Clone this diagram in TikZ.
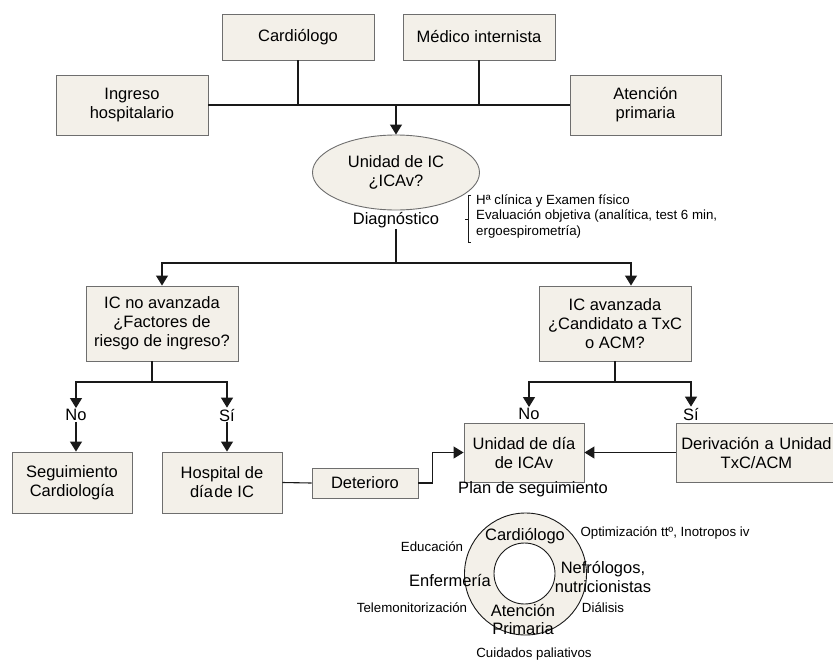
\documentclass[tikz,border=0pt]{standalone}
\usepackage{fontspec}
\setmainfont{Liberation Sans}
\usetikzlibrary{arrows.meta,shapes.geometric}
\definecolor{boxfill}{RGB}{243,240,233}
\definecolor{boxline}{RGB}{110,110,110}
\definecolor{ln}{RGB}{25,25,25}
\newcommand\myBigF{\fontsize{16.5}{19}\selectfont}
\begin{document}
\begin{tikzpicture}[x=1pt,y=-1pt,
 box/.style={draw=boxline, fill=boxfill, line width=0.9pt, align=center, inner sep=0pt, font=\myBigF},
 lbl/.style={inner sep=1pt, align=center, font=\myBigF},
 small/.style={inner sep=0pt, align=left, font=\fontsize{13.3}{15.5}\selectfont},
 tiny/.style={inner sep=0pt, font=\fontsize{13.3}{15.5}\selectfont},
 conn/.style={draw=ln, line width=1.1pt},
 arr/.style={conn, -{Triangle[length=10pt,width=12pt]}}]
\useasboundingbox (0,0) rectangle (833,662);

% top row
\node[box, minimum width=152, minimum height=46] (card) at (298,37) {Cardiólogo};
\node[box, minimum width=152, minimum height=46] (med) at (479,37) {Médico internista};
\node[box, minimum width=152, minimum height=60] (ing) at (132,105) {Ingreso\\hospitalario};
\node[box, minimum width=151, minimum height=60] (aten) at (645.5,105) {Atención\\primaria};

\node[ellipse, draw=boxline, fill=boxfill, line width=0.9pt, minimum width=167, minimum height=75, inner sep=0pt, align=center, font=\myBigF] (uic) at (396,172.5) {Unidad de IC\\¿ICAv?};
\node[lbl] (diag) at (396,220) {Diagnóstico};
\node[small, anchor=west] (eval) at (476,216) {Hª clínica y Examen físico\\Evaluación objetiva (analítica, test 6 min,\\ergoespirometría)};

% second level
\node[box, minimum width=152, minimum height=75] (icno) at (162,323.5) {IC no avanzada\\¿Factores de\\riesgo de ingreso?};
\node[box, minimum width=152, minimum height=75] (icav) at (615,323.5) {IC avanzada\\¿Candidato a TxC\\o ACM?};

% third level
\node[lbl] (no1) at (76,415) {No};
\node[lbl] (si1) at (227,415) {Sí};
\node[box, minimum width=120, minimum height=61] (seg) at (72,482.5) {Seguimiento\\Cardiología};
\node[box, minimum width=120, minimum height=61] (hosp) at (222,482.5) {Hospital de\\día\hspace{1.5pt}de IC};
\node[box, minimum width=106, minimum height=30] (det) at (365,483) {Deterioro};
\node[box, minimum width=120, minimum height=59] (uni) at (524,452.5) {Unidad de día\\de ICAv};
\node[lbl] (no2) at (529,414) {No};
\node[lbl] (si2) at (691,414) {Sí};
\node[box, anchor=west, text width=160, minimum height=59] (der) at (676,452.5) {Derivación a Unidad\\TxC/ACM};
\node[lbl] (plan) at (533,489) {Plan de seguimiento};

% circle
\node[circle, draw=ln, fill=boxfill, minimum size=122, line width=0.9pt] (outer) at (525.5,574) {};
\node[circle, draw=ln, fill=white, minimum size=61, line width=0.9pt] (inner) at (524.5,573.5) {};
\node[lbl, inner sep=0pt] (cc) at (525,536) {Cardiólogo};
\node[lbl, inner sep=0pt] (enf) at (450,580) {Enfermería};
\node[lbl, inner sep=0pt] (nef) at (603,576.5) {Nefrólogos,\\nutricionistas};
\node[lbl, inner sep=0pt, font=\fontsize{16.5}{18}\selectfont] (ap) at (523,619) {Atención\\Primaria};
\node[tiny] (edu) at (432,547) {Educación};
\node[tiny] (opt) at (665,533) {Optimización ttº, Inotropos iv};
\node[tiny] (tele) at (412,608) {Telemonitorización};
\node[tiny] (dia) at (603,608) {Diálisis};
\node[tiny] (cui) at (534,654) {Cuidados paliativos};

% connectors
\draw[conn] (ing.east) -- (aten.west);
\draw[conn] (card.south) -- (card.south |- ing.east);
\draw[conn] (med.south) -- (med.south |- ing.east);
\draw[arr] (uic.north |- ing.east) -- (uic.north);
\coordinate (j2) at (396,263);
\draw[conn] (diag.south) -- (j2);
\draw[arr] (j2) -| (icno.north);
\draw[arr] (j2) -| ([xshift=16pt]icav.north);
\coordinate (b1) at (152,382);
\draw[conn] (icno.south -| b1) -- (b1);
\draw[arr] (b1) -| (no1.north);
\draw[arr] (b1) -| (si1.north);
\draw[arr] (no1.south) -- (no1.south |- seg.north);
\draw[arr] (si1.south) -- (si1.south |- hosp.north);
\coordinate (b2) at (615,382);
\draw[conn] (icav.south) -- (b2);
\draw[arr] (b2) -| (no2.north);
\draw[arr] (b2) -| (si2.north);
\draw[conn] (hosp.east) -- (det.west);
\draw[arr] (det.east) -- ++(14,0) |- (uni.west);
\draw[arr] (der.west) -- (uni.east);

% bracket
\draw[conn, line width=0.8pt] (471,195) -- (468,195) -- (468,242) -- (471,242) (468,219) -- (465,219);
\end{tikzpicture}
\end{document}
